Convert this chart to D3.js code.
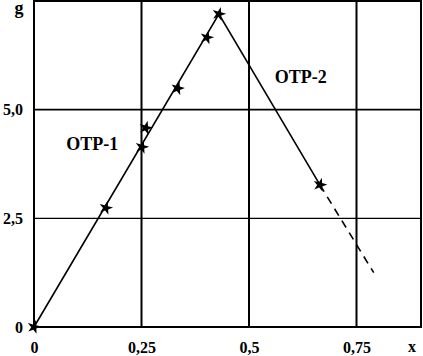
<!DOCTYPE html>
<html lang="en">
<head>
  <meta charset="UTF-8">
  <title>OTP</title>
  <style>
    body { margin: 0; background: #fff; }
    text { font-family: "Liberation Serif", "Times New Roman", serif; font-weight: bold; fill: #000; }
  </style>
</head>
<body>

<svg id="chart" width="423" height="356"></svg>

<script src="https://d3js.org/d3.v7.min.js"></script>

<script>
// datos
var xTicks = [0, 0.25, 0.5, 0.75];
var xTickLabels = ["0", "0,25", "0,5", "0,75"];
var yTicks = [0, 2.5, 5.0];
var yTickLabels = ["0", "2,5", "5,0"];

// puntos medidos (estrellas)
var puntosX = [0, 0.167, 0.251, 0.26, 0.334, 0.402, 0.43, 0.665];
var puntosY = [0, 2.74, 4.14, 4.58, 5.49, 6.66, 7.2, 3.27];

// OTP-1 y OTP-2, linea continua y tramo punteado
var lineaX = [0, 0.43, 0.665];
var lineaY = [0, 7.2, 3.27];
var punteadoX = [0.665, 0.79];
var punteadoY = [3.27, 1.25];

var etiquetas = ["OTP-1", "OTP-2"];
var etiquetasX = [0.075, 0.56];
var etiquetasY = [4.07, 5.62];

// ojo: "top" es una global del navegador, por eso mTop
var svg = d3.select("#chart"),
  mLeft = 34, mTop = 1, mRight = 421, mBottom = 327;

var x = d3.scaleLinear().domain([0, 0.9]).range([mLeft, mRight]);
var y = d3.scaleLinear().domain([0, 7.5]).range([mBottom, mTop]);

// rejilla
var g = svg.append("g");
g.selectAll("line.v").data(xTicks.slice(1)).enter().append("line")
  .attr("x1", d => x(d)).attr("x2", d => x(d))
  .attr("y1", mTop).attr("y2", mBottom)
  .attr("stroke", "#000").attr("stroke-width", 2);
g.selectAll("line.h").data(yTicks.slice(1)).enter().append("line")
  .attr("x1", mLeft).attr("x2", mRight)
  .attr("y1", d => y(d)).attr("y2", d => y(d))
  .attr("stroke", "#000").attr("stroke-width", (d, i) => i == 0 ? 1.3 : 1.8);

// marco
svg.append("rect")
  .attr("x", mLeft).attr("y", mTop)
  .attr("width", mRight - mLeft).attr("height", mBottom - mTop)
  .attr("fill", "none").attr("stroke", "#000").attr("stroke-width", 2);

// ejes (solo etiquetas)
var ejeX = d3.axisBottom(x).tickValues(xTicks)
  .tickFormat((d, i) => xTickLabels[i]).tickSize(0).tickPadding(15);
var ejeY = d3.axisLeft(y).tickValues(yTicks)
  .tickFormat((d, i) => yTickLabels[i]).tickSize(0).tickPadding(11);

svg.append("g").attr("transform", "translate(0," + mBottom + ")").call(ejeX)
  .call(s => s.select(".domain").remove())
  .call(s => s.attr("font-family", null).attr("font-size", null))
  .selectAll("text").style("font-size", "16px");
svg.append("g").attr("transform", "translate(" + mLeft + ",0)").call(ejeY)
  .call(s => s.select(".domain").remove())
  .call(s => s.attr("font-family", null).attr("font-size", null))
  .selectAll("text").style("font-size", "16px");

svg.append("text").attr("x", 19).attr("y", 14).attr("text-anchor", "middle")
  .style("font-size", "18px").text("g");
svg.append("text").attr("x", 412).attr("y", 352).attr("text-anchor", "middle")
  .style("font-size", "16px").text("x");

// lineas
var linea = d3.line().x(d => x(d[0])).y(d => y(d[1]));
svg.append("path")
  .datum(lineaX.map((d, i) => [d, lineaY[i]]))
  .attr("d", linea).attr("fill", "none")
  .attr("stroke", "#000").attr("stroke-width", 1.6);
svg.append("path")
  .datum(punteadoX.map((d, i) => [d, punteadoY[i]]))
  .attr("d", linea).attr("fill", "none")
  .attr("stroke", "#000").attr("stroke-width", 1.6)
  .attr("stroke-dasharray", "8,6");

// estrellas
svg.selectAll("path.star").data(puntosX).enter().append("path")
  .attr("class", "star")
  .attr("d", d3.symbol().type(d3.symbolStar).size(60))
  .attr("transform", (d, i) => "translate(" + x(d) + "," + y(puntosY[i]) + ") rotate(15)")
  .attr("fill", "#000");

// etiquetas OTP
svg.selectAll("text.otp").data(etiquetas).enter().append("text")
  .attr("class", "otp")
  .attr("x", (d, i) => x(etiquetasX[i]))
  .attr("y", (d, i) => y(etiquetasY[i]))
  .style("font-size", "18px")
  .text(d => d);
</script>

</body>
</html>
